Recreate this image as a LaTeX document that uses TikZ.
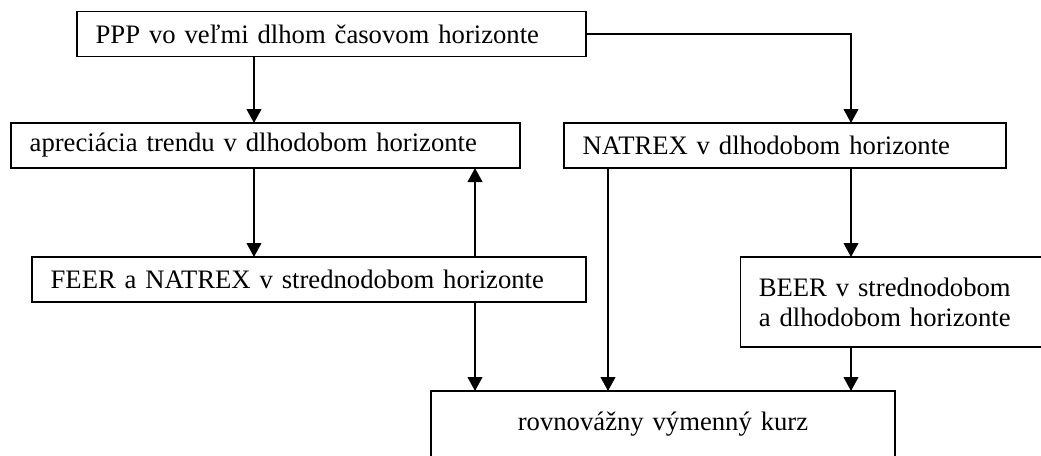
\documentclass[tikz,border=0pt]{standalone}
\usepackage{fontspec}
\setmainfont{Liberation Serif}
\usetikzlibrary{arrows.meta}

\begin{document}
\begin{tikzpicture}[x=0.75pt,y=-0.75pt,>={Triangle[length=10.5pt,width=11pt]},
    box/.style={rectangle,draw,line width=1pt,outer sep=0pt,inner xsep=14pt,
      align=left,minimum height=33.75pt,font=\fontsize{20}{20.6}\selectfont},
    link/.style={->,line width=1.5pt}]
\useasboundingbox (0,0) rectangle (1041,455);

\node[box,text width=353.75pt] (ppp) at (331.5,34) {PPP vo veľmi dlhom časovom horizonte};
\node[box,text width=353.75pt] (apr) at (265.5,145.5) {apreciácia trendu v dlhodobom horizonte};
\node[box,text width=303.5pt] (natrex) at (785,145.5) {NATREX v dlhodobom horizonte};
\node[box,text width=387.5pt] (feer) at (309,279.5) {FEER a NATREX v strednodobom horizonte};
\node[box,text width=205pt,minimum height=67.5pt,font=\fontsize{20}{22.5}\selectfont]
  (beer) at (895.5,302) {BEER v strednodobom\\a dlhodobom horizonte};
\node[box,text width=320pt,align=center,minimum height=49.5pt] (kurz) at (663,424) {rovnovážny výmenný kurz};

% columns of the connectors
\coordinate (a) at (254,0);
\coordinate (b) at (475,0);
\coordinate (c) at (608,0);
\coordinate (d) at (851,0);

\draw[link] (ppp.east) -| (natrex.north -| d);
\path[link]
(ppp.south -| a) edge (apr.north -| a)
(apr.south -| a) edge (feer.north -| a)
(feer.north -| b) edge (apr.south -| b)
(feer.south -| b) edge (kurz.north -| b)
(natrex.south -| c) edge (kurz.north -| c)
(natrex.south -| d) edge (beer.north -| d)
(beer.south -| d) edge (kurz.north -| d)
;

\end{tikzpicture}
\end{document}
